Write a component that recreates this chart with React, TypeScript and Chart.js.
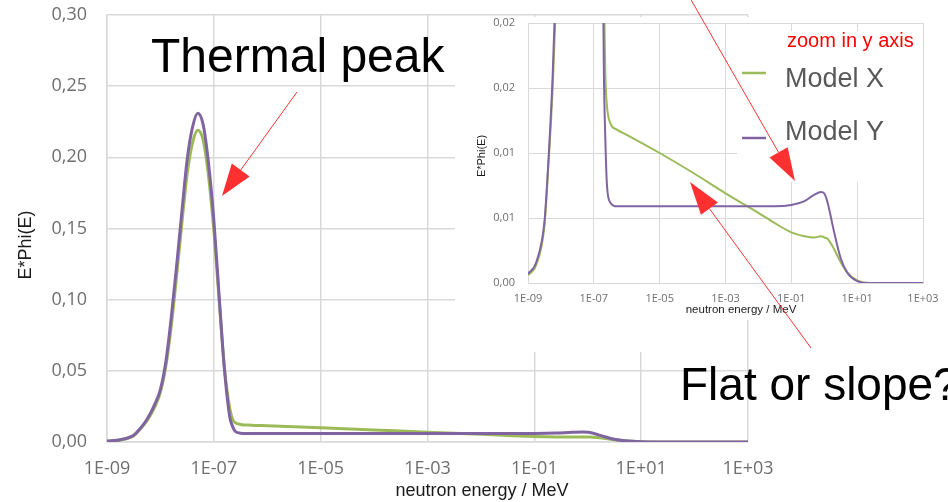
import React, { useEffect, useRef } from "react";
import { Chart, registerables } from "chart.js";

Chart.register(...registerables);

// ---- data ----
const energies = [
  1e-9, 1.78e-9, 3.16e-9, 3.98e-9, 5.62e-9, 7.94e-9, 1e-8, 1.26e-8, 1.58e-8, 2.0e-8,
  2.51e-8, 3.16e-8, 3.98e-8, 5.01e-8, 6.31e-8, 7.94e-8, 1e-7, 1.26e-7, 1.58e-7, 2.0e-7,
  2.24e-7, 2.51e-7, 3.16e-7, 5.01e-7, 1e-6, 1e-5, 1e-4, 1e-3, 1e-2, 3.16e-2,
  0.1, 0.251, 0.501, 0.794, 1.0, 1.26, 2.0, 3.16, 5.01, 10, 25.1, 100, 1000,
];

const modelX = [
  0.0006, 0.0014, 0.0044, 0.0082, 0.015, 0.025, 0.035, 0.053, 0.08, 0.116,
  0.153, 0.188, 0.21, 0.219, 0.212, 0.187, 0.149, 0.099, 0.052, 0.023,
  0.016, 0.0136, 0.0123, 0.0118, 0.0114, 0.01, 0.0085, 0.0069, 0.0054, 0.0046,
  0.0039, 0.0036, 0.0035, 0.0036, 0.0035, 0.0034, 0.0026, 0.0016, 0.0008, 0.0002, 0.0, 0.0, 0.0,
];

const modelY = [
  0.0007, 0.0016, 0.0047, 0.0085, 0.016, 0.027, 0.037, 0.056, 0.086, 0.123,
  0.161, 0.198, 0.221, 0.231, 0.223, 0.196, 0.156, 0.102, 0.051, 0.017,
  0.011, 0.0075, 0.0062, 0.0059, 0.0059, 0.0059, 0.0059, 0.0059, 0.0059, 0.0059,
  0.006, 0.0063, 0.0068, 0.007, 0.0069, 0.0062, 0.0039, 0.0019, 0.0008, 0.00015, 0.0, 0.0, 0.0,
];

const seriesNames = ["Model X", "Model Y"];

const xTickValues = [1e-9, 1e-7, 1e-5, 1e-3, 1e-1, 1e1, 1e3];
const xTickLabels = ["1E-09", "1E-07", "1E-05", "1E-03", "1E-01", "1E+01", "1E+03"];

const mainYTickValues = [0, 0.05, 0.1, 0.15, 0.2, 0.25, 0.3];
const mainYTickLabels = ["0,00", "0,05", "0,10", "0,15", "0,20", "0,25", "0,30"];

const insetYTickValues = [0, 0.005, 0.01, 0.015, 0.02];
const insetYTickLabels = ["0,00", "0,01", "0,01", "0,02", "0,02"];

const xTitle = "neutron energy / MeV";
const yTitle = "E*Phi(E)";
const insetNote = "zoom in y axis";
const thermalNote = "Thermal peak";
const slopeNote = "Flat or slope?";

// ---- styles ----
const GREEN = "#9BBB59";
const PURPLE = "#8064A2";
const GRID = "#d9d9d9";
const TICK = "#6f6f6f";
const SANS = '"Liberation Sans", Arial, sans-serif';
const TICKFONT = '"Open Sans", "Liberation Sans", sans-serif';

function makeDatasets(width: number) {
  const pts = (vals: number[]) => energies.map((e, i) => ({ x: e, y: vals[i] }));
  return [
    {
      label: seriesNames[1],
      data: pts(modelY),
      borderColor: PURPLE,
      backgroundColor: PURPLE,
      borderWidth: width,
      pointRadius: 0,
      cubicInterpolationMode: "monotone" as const,
      order: 0,
    },
    {
      label: seriesNames[0],
      data: pts(modelX),
      borderColor: GREEN,
      backgroundColor: GREEN,
      borderWidth: width,
      pointRadius: 0,
      cubicInterpolationMode: "monotone" as const,
      order: 1,
    },
  ];
}

function drawArrow(
  ctx: CanvasRenderingContext2D,
  x1: number, y1: number, x2: number, y2: number,
  headLen: number, headW: number
) {
  const a = Math.atan2(y2 - y1, x2 - x1);
  const c = Math.cos(a), s = Math.sin(a);
  const bx = x2 - headLen * c, by = y2 - headLen * s;
  ctx.save();
  ctx.strokeStyle = "rgba(255,30,30,0.9)";
  ctx.lineWidth = 1;
  ctx.beginPath();
  ctx.moveTo(x1, y1);
  ctx.lineTo(bx, by);
  ctx.stroke();
  ctx.fillStyle = "#ff3030";
  ctx.beginPath();
  ctx.moveTo(x2, y2);
  ctx.lineTo(bx - (headW / 2) * s, by + (headW / 2) * c);
  ctx.lineTo(bx + (headW / 2) * s, by - (headW / 2) * c);
  ctx.closePath();
  ctx.fill();
  ctx.restore();
}

const mainTitles = {
  id: "mainTitles",
  afterDraw(chart: any) {
    const ctx = chart.ctx as CanvasRenderingContext2D;
    ctx.save();
    ctx.fillStyle = "#1a1a1a";
    ctx.font = `18px ${SANS}`;
    ctx.textAlign = "center";
    ctx.textBaseline = "middle";
    ctx.fillText(xTitle, 482, 491);
    ctx.translate(26, 245);
    ctx.rotate(-Math.PI / 2);
    ctx.fillText(yTitle, 0, 0);
    ctx.restore();
  },
};

const insetDecor = {
  id: "insetDecor",
  beforeDraw(chart: any) {
    const ctx = chart.ctx as CanvasRenderingContext2D;
    ctx.save();
    ctx.fillStyle = "#ffffff";
    ctx.fillRect(455, 17, 493, 303);
    ctx.fillRect(455, 320, 285, 32);
    ctx.restore();
  },
  afterDraw(chart: any) {
    const ctx = chart.ctx as CanvasRenderingContext2D;
    ctx.save();
    // legend / note boxes
    ctx.fillStyle = "#ffffff";
    ctx.fillRect(737, 53, 186, 129);
    ctx.fillRect(784, 31, 134, 22);

    // inset axis titles
    ctx.fillStyle = "#1a1a1a";
    ctx.font = `11.5px ${SANS}`;
    ctx.textAlign = "center";
    ctx.textBaseline = "middle";
    ctx.fillText(xTitle, 741, 310);
    ctx.save();
    ctx.translate(482, 156);
    ctx.rotate(-Math.PI / 2);
    ctx.font = `11px ${SANS}`;
    ctx.fillText(yTitle, 0, 0);
    ctx.restore();

    // note
    ctx.textAlign = "left";
    ctx.textBaseline = "alphabetic";
    ctx.fillStyle = "#ff0000";
    ctx.font = `20px ${SANS}`;
    ctx.fillText(insetNote, 787, 47);

    // legend (from datasets)
    const ds = chart.data.datasets;
    const byLabel = (name: string) => ds.find((d: any) => d.label === name);
    const legendRows = [
      { name: seriesNames[0], lineY: 73, textY: 87 },
      { name: seriesNames[1], lineY: 138, textY: 140 },
    ];
    legendRows.forEach((r) => {
      const d = byLabel(r.name);
      ctx.strokeStyle = d.borderColor;
      ctx.lineWidth = 2.5;
      ctx.beginPath();
      ctx.moveTo(742, r.lineY);
      ctx.lineTo(766, r.lineY);
      ctx.stroke();
      ctx.fillStyle = "#595959";
      ctx.font = `27px ${SANS}`;
      ctx.fillText(d.label, 785, r.textY);
    });

    // big annotations
    ctx.fillStyle = "#000000";
    ctx.font = `48px ${SANS}`;
    ctx.fillText(thermalNote, 151, 72);
    ctx.font = `46px ${SANS}`;
    ctx.fillText(slopeNote, 680, 400);

    // arrows
    drawArrow(ctx, 297, 92, 222, 196, 32, 22);
    drawArrow(ctx, 690, -2, 795, 181, 33, 21);
    drawArrow(ctx, 811, 348, 690, 182, 33, 21);
    ctx.restore();
  },
};

export default function App() {
  const mainRef = useRef<HTMLCanvasElement>(null);
  const insetRef = useRef<HTMLCanvasElement>(null);

  useEffect(() => {
    const xTicksBuild = (s: any) => {
      s.ticks = xTickValues.map((v) => ({ value: v }));
    };
    const fixX = (h: number) => (s: any) => {
      s.height = h;
      s.paddingLeft = 0;
      s.paddingRight = 0;
    };
    const fixY = (w: number) => (s: any) => {
      s.width = w;
      s.paddingTop = 0;
      s.paddingBottom = 0;
    };
    const main = new Chart(mainRef.current as HTMLCanvasElement, {
      type: "line",
      data: { datasets: makeDatasets(3) as any },
      plugins: [mainTitles],
      options: {
        responsive: false,
        animation: false,
        events: [],
        layout: { padding: { left: 0, top: 15, right: 200, bottom: 0 } },
        plugins: { legend: { display: false }, tooltip: { enabled: false } },
        scales: {
          x: {
            type: "logarithmic",
            min: 1e-9,
            max: 1e3,
            afterBuildTicks: xTicksBuild,
            afterFit: fixX(60),
            ticks: {
              callback: (_v: any, i: number) => xTickLabels[i],
              color: TICK,
              font: { family: TICKFONT, size: 18 },
              padding: 16,
              maxRotation: 0,
              autoSkip: false,
            },
            grid: { color: GRID, lineWidth: 1.5, drawTicks: false },
            border: { color: GRID, width: 1.5 },
          },
          y: {
            min: 0,
            max: 0.3,
            afterBuildTicks: (s: any) => { s.ticks = mainYTickValues.map((v) => ({ value: v })); },
            afterFit: fixY(107),
            ticks: {
              callback: (_v: any, i: number) => mainYTickLabels[i],
              color: TICK,
              font: { family: TICKFONT, size: 18 },
              padding: 20,
            },
            grid: { color: GRID, lineWidth: 1.5, drawTicks: false },
            border: { color: GRID, width: 1.5 },
          },
        },
      } as any,
    });

    const inset = new Chart(insetRef.current as HTMLCanvasElement, {
      type: "line",
      data: { datasets: makeDatasets(2) as any },
      plugins: [insetDecor],
      options: {
        responsive: false,
        animation: false,
        events: [],
        layout: { padding: { left: 0, top: 23, right: 25, bottom: 179 } },
        plugins: { legend: { display: false }, tooltip: { enabled: false } },
        scales: {
          x: {
            type: "logarithmic",
            min: 1e-9,
            max: 1e3,
            afterBuildTicks: xTicksBuild,
            afterFit: fixX(40),
            ticks: {
              callback: (_v: any, i: number) => xTickLabels[i],
              color: TICK,
              font: { family: TICKFONT, size: 11 },
              padding: 9,
              maxRotation: 0,
              autoSkip: false,
            },
            grid: { color: GRID, lineWidth: 1, drawTicks: false },
            border: { color: GRID, width: 1 },
          },
          y: {
            min: 0,
            max: 0.02,
            afterBuildTicks: (s: any) => { s.ticks = insetYTickValues.map((v) => ({ value: v })); },
            afterFit: fixY(528),
            ticks: {
              callback: (_v: any, i: number) => insetYTickLabels[i],
              color: TICK,
              font: { family: TICKFONT, size: 11 },
              padding: 13,
            },
            grid: { color: GRID, lineWidth: 1, drawTicks: false },
            border: { color: GRID, width: 1 },
          },
        },
      } as any,
    });

    return () => {
      main.destroy();
      inset.destroy();
    };
  }, []);

  return (
    <div
      style={{
        position: "absolute",
        left: 0,
        top: 0,
        width: 948,
        height: 502,
        background: "#ffffff",
        overflow: "hidden",
      }}
    >
      <canvas ref={mainRef} width={948} height={502} style={{ position: "absolute", left: 0, top: 0 }} />
      <canvas ref={insetRef} width={948} height={502} style={{ position: "absolute", left: 0, top: 0 }} />
    </div>
  );
}
